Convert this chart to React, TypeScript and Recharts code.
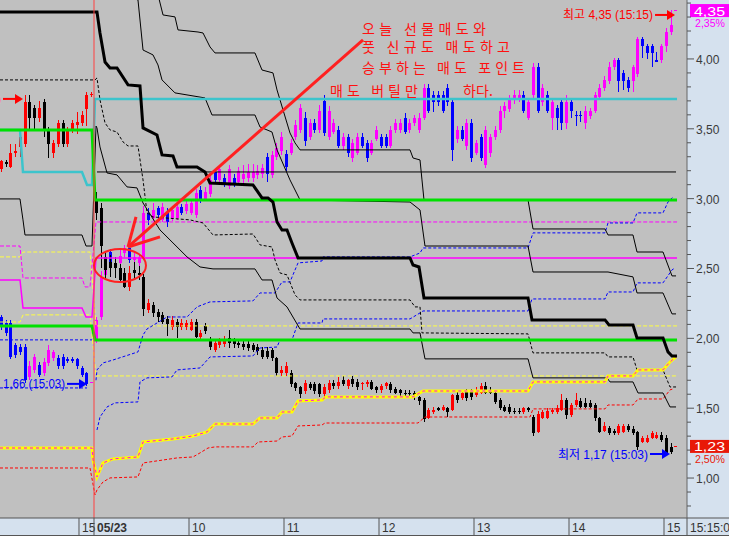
import { ComposedChart, Line, Bar, XAxis, YAxis, CartesianGrid, ReferenceLine, ReferenceDot } from "recharts"

const X_MIN = -19.79
const X_MAX = 124.84
const Y_MIN = 0.714
const Y_MAX = 4.422

const X_TICKS = [-3.16, 0, 20, 40, 60, 80, 100, 120, X_MAX]
const X_LABELS = ["15", "05/23", "10", "11", "12", "13", "14", "15", "15:15:00"]
const Y_TICKS = [0.8, 0.9, 1.0, 1.1, 1.2, 1.3, 1.4, 1.5, 1.6, 1.7, 1.8, 1.9, 2.0, 2.1, 2.2, 2.3, 2.4, 2.5, 2.6, 2.7, 2.8, 2.9, 3.0, 3.1, 3.2, 3.3, 3.4, 3.5, 3.6, 3.7, 3.8, 3.9, 4.0, 4.1, 4.2, 4.3, 4.4]

// candles are [open, high, low, close]; prev day = 20 slots before 09:00
const callPrev = [
  [2.15, 2.17, 2.06, 2.08], [2.11, 2.13, 2.02, 2.04], [2.11, 2.13, 1.85, 1.87], [1.95, 1.97, 1.86, 1.88],
  [1.94, 1.96, 1.88, 1.90], [1.94, 1.96, 1.68, 1.70], [1.72, 1.84, 1.70, 1.80], [1.77, 1.89, 1.75, 1.87],
  [1.81, 1.83, 1.72, 1.74], [1.75, 1.86, 1.73, 1.83], [1.82, 1.95, 1.80, 1.92], [1.86, 1.92, 1.84, 1.90],
  [1.86, 1.88, 1.78, 1.80], [1.87, 1.89, 1.78, 1.80], [1.85, 1.87, 1.82, 1.84], [1.85, 1.87, 1.82, 1.84],
  [1.85, 1.86, 1.78, 1.80], [1.79, 1.80, 1.72, 1.74], [1.75, 1.76, 1.66, 1.67], [1.68, 1.69, 1.68, 1.69],
]
const putPrev = [
  [3.21, 3.28, 3.19, 3.27], [3.26, 3.28, 3.23, 3.25], [3.23, 3.39, 3.22, 3.33], [3.33, 3.39, 3.30, 3.34],
  [3.37, 3.46, 3.30, 3.44], [3.39, 3.74, 3.37, 3.69], [3.69, 3.74, 3.49, 3.58], [3.65, 3.67, 3.49, 3.58],
  [3.58, 3.70, 3.55, 3.65], [3.69, 3.71, 3.44, 3.49], [3.49, 3.51, 3.29, 3.39], [3.33, 3.42, 3.29, 3.40],
  [3.39, 3.56, 3.37, 3.54], [3.54, 3.56, 3.37, 3.39], [3.39, 3.51, 3.37, 3.49], [3.49, 3.56, 3.47, 3.54],
  [3.53, 3.62, 3.46, 3.55], [3.54, 3.63, 3.52, 3.60], [3.64, 3.76, 3.52, 3.74], [3.74, 3.76, 3.73, 3.75],
]
const callToday = [
  [1.99, 2.15, 1.97, 2.13], [2.15, 2.48, 2.13, 2.44], [2.45, 2.55, 2.42, 2.52], [2.62, 2.64, 2.48, 2.50],
  [2.50, 2.56, 2.47, 2.53], [2.54, 2.63, 2.52, 2.59], [2.61, 2.67, 2.58, 2.65], [2.65, 2.68, 2.54, 2.56],
  [2.56, 2.61, 2.54, 2.58], [2.54, 2.60, 2.52, 2.58], [2.58, 2.95, 2.56, 2.90], [2.90, 2.93, 2.81, 2.85],
  [2.86, 2.97, 2.84, 2.92], [2.93, 2.95, 2.85, 2.88], [2.85, 2.97, 2.83, 2.94], [2.90, 2.93, 2.80, 2.83],
  [2.86, 2.95, 2.84, 2.92], [2.86, 2.97, 2.85, 2.94], [2.94, 2.96, 2.88, 2.90], [2.91, 2.99, 2.89, 2.96],
  [2.90, 3.00, 2.88, 2.97], [2.88, 3.07, 2.86, 3.04], [3.06, 3.09, 2.97, 2.99], [3.00, 3.08, 2.98, 3.05],
  [3.03, 3.16, 3.01, 3.13], [3.19, 3.21, 3.11, 3.13], [3.13, 3.24, 3.11, 3.21], [3.15, 3.18, 3.08, 3.10],
  [3.09, 3.24, 3.07, 3.21], [3.15, 3.18, 3.08, 3.10], [3.12, 3.23, 3.10, 3.20], [3.14, 3.24, 3.10, 3.18],
  [3.15, 3.25, 3.12, 3.19], [3.15, 3.25, 3.12, 3.19], [3.17, 3.24, 3.14, 3.20], [3.18, 3.25, 3.15, 3.22],
  [3.30, 3.33, 3.12, 3.18], [3.17, 3.34, 3.15, 3.31], [3.30, 3.40, 3.28, 3.36], [3.34, 3.48, 3.31, 3.44],
  [3.32, 3.35, 3.20, 3.23], [3.33, 3.43, 3.31, 3.40], [3.44, 3.56, 3.42, 3.53], [3.49, 3.68, 3.47, 3.65],
  [3.58, 3.62, 3.38, 3.41], [3.44, 3.57, 3.42, 3.54], [3.54, 3.57, 3.47, 3.49], [3.49, 3.67, 3.47, 3.63],
  [3.70, 3.74, 3.45, 3.47], [3.44, 3.66, 3.42, 3.63], [3.48, 3.57, 3.46, 3.54], [3.49, 3.52, 3.36, 3.38],
  [3.38, 3.47, 3.35, 3.44], [3.44, 3.46, 3.30, 3.33], [3.29, 3.43, 3.26, 3.40], [3.33, 3.47, 3.31, 3.44],
  [3.44, 3.47, 3.36, 3.38], [3.40, 3.42, 3.26, 3.29], [3.33, 3.42, 3.31, 3.40], [3.43, 3.52, 3.41, 3.49],
  [3.44, 3.46, 3.36, 3.38], [3.44, 3.46, 3.36, 3.38], [3.38, 3.52, 3.36, 3.49], [3.49, 3.57, 3.47, 3.54],
  [3.49, 3.57, 3.47, 3.54], [3.58, 3.61, 3.46, 3.48], [3.49, 3.57, 3.47, 3.54], [3.54, 3.60, 3.52, 3.58],
  [3.49, 3.61, 3.47, 3.58], [3.58, 3.82, 3.56, 3.79], [3.79, 3.82, 3.61, 3.63], [3.74, 3.77, 3.62, 3.69],
  [3.74, 3.77, 3.66, 3.69], [3.74, 3.77, 3.61, 3.63], [3.79, 3.82, 3.66, 3.69], [3.69, 3.72, 3.27, 3.35],
  [3.43, 3.52, 3.40, 3.49], [3.49, 3.52, 3.41, 3.43], [3.38, 3.57, 3.35, 3.54], [3.54, 3.57, 3.26, 3.29],
  [3.33, 3.42, 3.31, 3.40], [3.44, 3.46, 3.27, 3.29], [3.24, 3.52, 3.22, 3.49], [3.33, 3.46, 3.30, 3.44],
  [3.44, 3.52, 3.42, 3.49], [3.49, 3.66, 3.47, 3.63], [3.63, 3.69, 3.58, 3.66], [3.64, 3.74, 3.62, 3.71],
  [3.71, 3.78, 3.68, 3.74], [3.71, 3.78, 3.69, 3.74], [3.74, 3.77, 3.61, 3.63], [3.58, 3.71, 3.56, 3.69],
  [3.74, 3.97, 3.72, 3.94], [3.94, 3.97, 3.61, 3.63], [3.69, 3.82, 3.66, 3.79], [3.74, 3.77, 3.61, 3.63],
  [3.58, 3.71, 3.49, 3.69], [3.65, 3.67, 3.49, 3.58], [3.69, 3.72, 3.49, 3.54], [3.54, 3.74, 3.50, 3.69],
  [3.69, 3.72, 3.58, 3.63], [3.60, 3.63, 3.52, 3.59], [3.60, 3.63, 3.55, 3.59], [3.54, 3.66, 3.50, 3.63],
  [3.59, 3.65, 3.57, 3.63], [3.63, 3.76, 3.61, 3.74], [3.73, 3.82, 3.71, 3.79], [3.79, 3.88, 3.77, 3.85],
  [3.84, 3.98, 3.82, 3.94], [3.94, 4.01, 3.92, 3.99], [3.99, 4.01, 3.76, 3.84], [3.90, 3.92, 3.78, 3.84],
  [3.85, 3.87, 3.76, 3.79], [3.84, 3.96, 3.76, 3.94], [3.89, 4.16, 3.87, 4.14], [4.14, 4.16, 4.01, 4.09],
  [4.09, 4.11, 4.00, 4.04], [4.09, 4.11, 3.94, 4.04], [3.99, 4.05, 3.98, 3.98], [3.99, 4.11, 3.97, 4.09],
  [4.09, 4.22, 4.05, 4.19], [4.19, 4.35, 4.17, 4.24], [4.34, 4.35, 4.34, 4.35],
]
const putToday = [
  [3.00, 3.05, 2.85, 2.90], [2.93, 2.97, 2.50, 2.66], [2.58, 2.62, 2.42, 2.49], [2.55, 2.60, 2.44, 2.50],
  [2.54, 2.58, 2.43, 2.50], [2.50, 2.53, 2.40, 2.42], [2.47, 2.50, 2.36, 2.37], [2.37, 2.52, 2.34, 2.47],
  [2.49, 2.55, 2.42, 2.47], [2.47, 2.52, 2.42, 2.45], [2.44, 2.46, 2.16, 2.21], [2.20, 2.28, 2.18, 2.25],
  [2.24, 2.26, 2.15, 2.18], [2.19, 2.21, 2.12, 2.15], [2.17, 2.19, 2.10, 2.12], [2.14, 2.16, 2.02, 2.10],
  [2.08, 2.16, 2.06, 2.13], [2.12, 2.14, 2.00, 2.08], [2.08, 2.14, 2.06, 2.11], [2.08, 2.13, 2.06, 2.11],
  [2.06, 2.14, 2.05, 2.12], [2.12, 2.14, 2.00, 2.01], [2.01, 2.06, 1.99, 2.04], [2.09, 2.11, 2.03, 2.05],
  [1.99, 2.01, 1.92, 1.94], [1.92, 1.99, 1.90, 1.97], [1.95, 2.00, 1.93, 1.98], [1.96, 2.02, 1.94, 1.99],
  [2.00, 2.06, 1.93, 1.97], [1.98, 2.00, 1.93, 1.96], [1.97, 1.99, 1.93, 1.95], [1.96, 1.98, 1.92, 1.94],
  [1.96, 1.98, 1.91, 1.93], [1.95, 1.97, 1.90, 1.92], [1.94, 1.96, 1.88, 1.91], [1.92, 1.94, 1.85, 1.87],
  [1.91, 1.94, 1.85, 1.87], [1.92, 1.93, 1.84, 1.86], [1.86, 1.87, 1.73, 1.75], [1.75, 1.80, 1.73, 1.77],
  [1.75, 1.83, 1.73, 1.80], [1.75, 1.77, 1.65, 1.67], [1.68, 1.69, 1.62, 1.645], [1.65, 1.66, 1.57, 1.60],
  [1.62, 1.70, 1.60, 1.68], [1.67, 1.69, 1.63, 1.645], [1.67, 1.69, 1.60, 1.62], [1.67, 1.68, 1.58, 1.60],
  [1.60, 1.67, 1.58, 1.65], [1.63, 1.70, 1.61, 1.68], [1.68, 1.70, 1.64, 1.66], [1.66, 1.72, 1.64, 1.69],
  [1.70, 1.73, 1.66, 1.67], [1.66, 1.71, 1.64, 1.70], [1.71, 1.73, 1.65, 1.67], [1.69, 1.71, 1.63, 1.65],
  [1.67, 1.69, 1.63, 1.68], [1.67, 1.70, 1.65, 1.69], [1.69, 1.70, 1.63, 1.64], [1.65, 1.66, 1.61, 1.63],
  [1.63, 1.67, 1.61, 1.66], [1.66, 1.69, 1.64, 1.68], [1.67, 1.69, 1.61, 1.63], [1.64, 1.65, 1.60, 1.61],
  [1.63, 1.64, 1.59, 1.61], [1.61, 1.63, 1.59, 1.605], [1.61, 1.63, 1.59, 1.605], [1.61, 1.62, 1.56, 1.58],
  [1.58, 1.59, 1.52, 1.55], [1.56, 1.57, 1.40, 1.42], [1.43, 1.50, 1.42, 1.49], [1.47, 1.51, 1.46, 1.49],
  [1.50, 1.51, 1.48, 1.49], [1.49, 1.52, 1.48, 1.51], [1.50, 1.51, 1.44, 1.47], [1.49, 1.60, 1.48, 1.595],
  [1.595, 1.63, 1.54, 1.56], [1.57, 1.63, 1.56, 1.61], [1.62, 1.64, 1.55, 1.57], [1.62, 1.64, 1.56, 1.58],
  [1.595, 1.65, 1.58, 1.63], [1.61, 1.68, 1.60, 1.66], [1.66, 1.69, 1.60, 1.61], [1.63, 1.65, 1.60, 1.61],
  [1.61, 1.62, 1.53, 1.545], [1.56, 1.57, 1.49, 1.50], [1.51, 1.52, 1.47, 1.48], [1.51, 1.53, 1.46, 1.47],
  [1.48, 1.50, 1.46, 1.47], [1.48, 1.50, 1.46, 1.47], [1.47, 1.51, 1.46, 1.50], [1.50, 1.51, 1.47, 1.49],
  [1.44, 1.45, 1.30, 1.32], [1.33, 1.48, 1.32, 1.46], [1.43, 1.49, 1.42, 1.47], [1.43, 1.50, 1.42, 1.48],
  [1.47, 1.50, 1.46, 1.49], [1.47, 1.52, 1.46, 1.50], [1.49, 1.60, 1.48, 1.56], [1.56, 1.57, 1.42, 1.45],
  [1.45, 1.54, 1.44, 1.52], [1.52, 1.61, 1.51, 1.56], [1.55, 1.57, 1.50, 1.51], [1.54, 1.57, 1.50, 1.51],
  [1.54, 1.56, 1.50, 1.51], [1.52, 1.54, 1.41, 1.43], [1.43, 1.44, 1.32, 1.33], [1.34, 1.40, 1.33, 1.37],
  [1.36, 1.37, 1.31, 1.32], [1.34, 1.35, 1.31, 1.32], [1.32, 1.39, 1.31, 1.37], [1.33, 1.39, 1.32, 1.37],
  [1.37, 1.39, 1.33, 1.345], [1.35, 1.37, 1.31, 1.32], [1.33, 1.34, 1.20, 1.22], [1.26, 1.30, 1.25, 1.29],
  [1.26, 1.31, 1.25, 1.29], [1.29, 1.34, 1.28, 1.32], [1.29, 1.33, 1.28, 1.31], [1.31, 1.33, 1.26, 1.27],
  [1.29, 1.31, 1.18, 1.18], [1.22, 1.25, 1.17, 1.19], [1.23, 1.23, 1.23, 1.23],
]

// indicator lines, [slot, price]
const thickBlack = [[-19.79, 4.336], [0.63, 4.336], [1.26, 4.186], [2.32, 3.978], [3.37, 3.936], [4.84, 3.936], [7.16, 3.814], [9.68, 3.807], [10.32, 3.506], [13.26, 3.456], [14.32, 3.313], [16.63, 3.306], [17.47, 3.227], [21.68, 3.227], [23.37, 3.191], [24.42, 3.112], [33.47, 3.098], [35.37, 3.005], [36.63, 3.005], [37.68, 2.976], [38.53, 2.833], [39.58, 2.776], [40.63, 2.776], [41.68, 2.683], [42.95, 2.576], [66.53, 2.576], [67.16, 2.525], [68.42, 2.511], [69.47, 2.289], [91.37, 2.289], [92.21, 2.132], [107.58, 2.132], [108.42, 2.096], [113.47, 2.096], [114.32, 2.003], [119.79, 2.003], [120.84, 1.903], [121.68, 1.874], [122.74, 1.874]]
const thin1 = [[13.47, 4.46], [14.53, 4.315], [17.05, 4.301], [17.68, 4.208], [21.89, 4.193], [22.95, 4.186], [24.42, 4.086], [25.47, 4.043], [33.89, 4.043], [35.37, 3.921], [37.68, 3.9], [38.53, 3.778], [41.26, 3.47], [42.32, 3.399], [43.37, 3.349], [66.53, 3.349], [67.16, 3.291], [68.63, 3.277], [69.05, 3.134], [69.47, 2.991], [91.37, 2.991], [92.42, 2.783], [107.58, 2.783], [108.21, 2.74], [113.47, 2.74], [114.32, 2.618], [119.79, 2.618], [121.68, 2.447], [122.53, 2.447]]
const thin2 = [[7.16, 4.46], [9.26, 4.422], [10.32, 4.064], [12.42, 4.029], [13.47, 3.957], [14.32, 3.85], [17.05, 3.757], [23.37, 3.721], [24.84, 3.599], [33.89, 3.599], [34.95, 3.513], [37.47, 3.477], [38.53, 3.349], [41.26, 3.134], [43.37, 2.991], [66.53, 2.976], [68.63, 2.919], [69.68, 2.661], [91.37, 2.661], [92.42, 2.475], [108.21, 2.475], [113.47, 2.44], [114.32, 2.325], [119.79, 2.325], [121.68, 2.175], [122.53, 2.175]]
const thin3 = [[-19.79, 2.998], [-15.58, 2.998], [-14.95, 2.848], [-14.53, 2.74], [-2.53, 2.74], [-1.68, 2.661], [-0.42, 2.661], [0.42, 3.52], [0.63, 3.506], [1.26, 3.37], [2.74, 3.184], [4.84, 3.17], [6.95, 3.084], [9.05, 3.077], [10.32, 2.969], [13.89, 2.776], [16.63, 2.683], [19.58, 2.583], [22.32, 2.511], [25.05, 2.497], [33.89, 2.497], [35.37, 2.418], [37.47, 2.418], [38.53, 2.289], [40.63, 2.225], [43.37, 2.067], [66.53, 2.067], [67.16, 2.039], [68.63, 2.039], [69.68, 1.853], [91.37, 1.853], [92.42, 1.717], [108.0, 1.717], [108.63, 1.688], [113.47, 1.688], [114.53, 1.609], [119.79, 1.609], [121.26, 1.509], [122.53, 1.509]]
const blackFlat = [[0.63, 3.191], [122.53, 3.191]]
const dashBlack = [[-19.79, 3.85], [0.21, 3.85], [0.63, 3.864], [1.26, 3.707], [2.32, 3.542], [3.37, 3.492], [4.84, 3.477], [6.11, 3.406], [7.16, 3.377], [9.26, 3.377], [10.32, 3.134], [11.16, 2.898], [12.42, 2.869], [20.21, 2.848], [22.95, 2.826], [25.05, 2.74], [33.47, 2.747], [34.95, 2.669], [37.47, 2.654], [38.11, 2.561], [39.16, 2.468], [40.63, 2.454], [42.32, 2.311], [43.37, 2.275], [66.53, 2.275], [67.58, 2.225], [68.63, 2.225], [69.05, 2.039], [91.37, 2.032], [92.42, 1.896], [107.58, 1.896], [108.21, 1.867], [113.47, 1.867], [114.32, 1.774], [119.79, 1.774], [121.26, 1.652], [122.53, 1.652]]
const blueA = [[0.42, 1.7], [0.63, 1.774], [1.89, 1.824], [4.0, 1.845], [9.26, 1.903], [10.32, 2.024], [11.16, 2.067], [15.37, 2.153], [19.58, 2.153], [21.68, 2.225], [24.42, 2.261], [33.47, 2.268], [34.95, 2.325], [38.11, 2.325], [39.58, 2.404], [41.26, 2.404], [42.95, 2.54], [48.0, 2.554], [48.21, 2.583], [66.53, 2.583], [68.63, 2.611], [69.26, 2.647], [91.37, 2.647], [92.42, 2.755], [107.58, 2.755], [108.21, 2.826], [113.47, 2.826], [114.32, 2.898], [119.79, 2.898], [120.84, 2.976], [121.89, 3.012]]
const blueB = [[0.63, 1.344], [1.26, 1.437], [2.74, 1.509], [4.42, 1.538], [9.26, 1.545], [9.68, 1.688], [11.16, 1.717], [16.42, 1.724], [17.47, 1.774], [22.32, 1.788], [24.42, 1.867], [33.47, 1.874], [34.53, 1.917], [34.95, 1.931], [38.53, 1.938], [39.16, 1.989], [41.68, 1.989], [42.95, 2.11], [48.0, 2.11], [48.21, 2.139], [66.53, 2.139], [68.63, 2.182], [69.26, 2.196], [91.37, 2.196], [92.21, 2.282], [107.58, 2.282], [108.21, 2.332], [113.47, 2.332], [114.32, 2.397], [119.79, 2.397], [121.68, 2.49], [122.32, 2.504]]
const bluePrevHi = [[-19.79, 1.989], [-0.42, 1.989]]
const bluePrevLo = [[-19.79, 1.645], [-1.47, 1.645]]
const redDash = [[-19.79, 1.072], [-0.84, 1.072], [0.21, 0.879], [0.63, 0.915], [1.89, 0.972], [3.37, 1.001], [9.26, 1.008], [10.32, 1.108], [17.47, 1.144], [20.84, 1.151], [22.32, 1.18], [24.0, 1.215], [25.47, 1.223], [33.47, 1.223], [34.53, 1.258], [38.53, 1.265], [39.58, 1.294], [41.68, 1.301], [42.95, 1.373], [48.0, 1.38], [48.63, 1.394], [68.21, 1.394], [69.68, 1.437], [91.79, 1.437], [92.42, 1.495], [107.58, 1.495], [108.21, 1.523], [113.47, 1.523], [114.53, 1.566], [119.79, 1.566], [121.26, 1.631], [121.89, 1.638]]
const yellowBand = [[-19.79, 1.215], [-0.42, 1.215], [-0.21, 1.13], [0.63, 1.008], [1.89, 1.108], [4.0, 1.137], [9.26, 1.151], [10.32, 1.258], [16.63, 1.28], [20.84, 1.301], [23.79, 1.33], [25.47, 1.387], [33.47, 1.387], [34.95, 1.43], [38.53, 1.43], [39.58, 1.473], [41.68, 1.473], [42.95, 1.552], [48.0, 1.559], [48.84, 1.581], [67.16, 1.581], [69.26, 1.623], [91.37, 1.623], [92.42, 1.688], [107.58, 1.688], [108.21, 1.731], [113.47, 1.731], [114.53, 1.774], [119.79, 1.774], [121.26, 1.831], [122.53, 1.867]]
const cyanLine = [[-19.79, 3.492], [-15.58, 3.492], [-14.95, 3.191], [-2.53, 3.191], [-1.47, 3.098], [-0.42, 3.098], [0.21, 3.714], [122.74, 3.714]]
const greenHi = [[-19.79, 3.492], [-0.42, 3.492], [0.21, 2.991], [122.74, 2.991]]
const greenLo = [[-19.79, 2.089], [-0.42, 2.089], [0.21, 1.989], [122.74, 1.989]]
const magentaSolid = [[-19.79, 2.418], [-15.58, 2.418], [-14.95, 2.218], [-2.53, 2.218], [-1.68, 2.153], [-0.42, 2.153], [0.42, 2.576], [122.74, 2.576]]
const magentaDash = [[-19.79, 2.661], [-15.58, 2.661], [-14.95, 2.432], [-2.53, 2.432], [-1.89, 2.368], [-0.84, 2.368], [0.42, 2.833], [122.74, 2.833]]
const yellowDashHi = [[-19.79, 2.583], [-15.58, 2.583], [-14.95, 2.618], [-0.84, 2.618], [0.42, 2.089], [122.74, 2.089]]
const yellowDashLo = [[-19.79, 2.117], [-15.58, 2.117], [-14.95, 2.168], [-0.84, 2.168], [0.42, 1.731], [122.74, 1.731]]

const CALL_UP = "#ff00ff"
const CALL_DN = "#0000ff"
const PUT_UP = "#ff0000"
const PUT_DN = "#000000"
const LABEL_FONT = "'Liberation Sans', 'Noto Sans CJK KR', sans-serif"

const candleRows = callPrev.concat(callToday).map((call, n) => {
  const put = n < 20 ? putPrev[n] : putToday[n - 20]
  return {
    s: n - 20 + 0.5,
    call,
    put,
    lo: Math.min(call[2], put[2]),
    hi: Math.max(call[1], put[1]),
  }
})

const pts = (a: number[][]) => a.map(([s, v]) => ({ s, v }))

const lineStyles = [
  { data: yellowDashHi, stroke: "#ffff40", width: 1, dash: "4 2" },
  { data: yellowDashLo, stroke: "#ffff40", width: 1, dash: "4 2" },
  { data: magentaDash, stroke: "#ff00ff", width: 1, dash: "4 2" },
  { data: magentaSolid, stroke: "#ff00ff", width: 1.5 },
  { data: redDash, stroke: "#ff0000", width: 1, dash: "3 2" },
  { data: blueA, stroke: "#0000ff", width: 1, dash: "3 2" },
  { data: blueB, stroke: "#0000ff", width: 1, dash: "3 2" },
  { data: bluePrevHi, stroke: "#0000ff", width: 1, dash: "3 2" },
  { data: bluePrevLo, stroke: "#0000ff", width: 1, dash: "3 2" },
  { data: dashBlack, stroke: "#000000", width: 1, dash: "3 2" },
  { data: thin1, stroke: "#000000", width: 1 },
  { data: thin2, stroke: "#000000", width: 1 },
  { data: thin3, stroke: "#000000", width: 1 },
  { data: blackFlat, stroke: "#000000", width: 1 },
  { data: yellowBand, stroke: "#ffff00", width: 3 },
  { data: yellowBand, stroke: "#ff00ff", width: 1, dash: "3 3" },
  { data: cyanLine, stroke: "#3cc4cc", width: 2.5 },
  { data: greenHi, stroke: "#00e000", width: 3 },
  { data: greenLo, stroke: "#00e000", width: 3 },
  { data: thickBlack, stroke: "#000000", width: 3 },
]

const noteLines = [
  { s: 56.42, v: 4.179, text: "오늘 선물매도와", w: 124 },
  { s: 56.42, v: 4.05, text: "풋 신규도 매도하고", w: 148 },
  { s: 56.42, v: 3.9, text: "승부하는 매도 포인트", w: 163 },
  { s: 49.68, v: 3.735, text: "매도 버틸만", w: 88 },
  { s: 77.68, v: 3.735, text: "하다.", w: 30 },
]

const arrowLabels = [
  { s: 122.32, v: 4.315, text: "최고 4,35 (15:15)", color: "#ff0000", w: 90 },
  { s: 121.26, v: 1.172, text: "최저 1,17 (15:03)", color: "#0000ff", w: 90 },
  { s: -1.47, v: 1.674, text: "1,66 (15:03)", color: "#0000ff", w: 62 },
  { s: -14.95, v: 3.714, text: "최고 3,74 (09:18)", color: "#ff0000", w: 90 },
]

const bigArrow = [
  [[7.16, 2.654], [56.63, 4.136]],
  [[7.16, 2.654], [8.84, 2.869]],
  [[7.16, 2.654], [13.89, 2.726]],
]

function CandlePair(props: any) {
  const { x, y, width, height, payload } = props
  if (!payload || !height) return null
  const k = height / (payload.hi - payload.lo)
  const py = (v: number) => Math.round(y + (payload.hi - v) * k)
  const cx = Math.floor(x + width / 2)
  const draw = (c: number[], up: string, dn: string, key: string) => {
    const [o, h, l, cl] = c
    const col = cl >= o ? up : dn
    const top = py(Math.max(o, cl))
    const bot = py(Math.min(o, cl))
    return (
      <g key={key}>
        <rect x={cx} y={py(h)} width={1} height={Math.max(1, py(l) - py(h))} fill={col} />
        <rect x={cx - 1} y={top} width={3} height={Math.max(1, bot - top)} fill={col} />
      </g>
    )
  }
  return (
    <g shapeRendering="crispEdges">
      {draw(payload.call, CALL_UP, CALL_DN, "c")}
      {draw(payload.put, PUT_UP, PUT_DN, "p")}
    </g>
  )
}

function YTick(props: any) {
  const { x, y, payload } = props
  const v = payload.value
  const major = Math.abs(v * 2 - Math.round(v * 2)) < 1e-6
  return (
    <g>
      <line x1={x} x2={x + (major ? 7 : 4)} y1={y} y2={y} stroke="#555" />
      {major && (
        <text x={x + 9} y={y + 5} fontSize={12} fill="#3a3a3a" fontFamily={LABEL_FONT}>
          {v.toFixed(2).replace(".", ",")}
        </text>
      )}
    </g>
  )
}

function XTick(props: any) {
  const { x, y, payload } = props
  const idx = X_TICKS.findIndex((t) => Math.abs(t - payload.value) < 1e-6)
  const last = idx === X_TICKS.length - 1
  return (
    <g>
      <line x1={x} x2={x} y1={y} y2={y + 18} stroke="#555" />
      {last && <line x1={x} x2={x + 42} y1={y} y2={y} stroke="#555" />}
      <text x={x + 3} y={y + 14} fontSize={12} fontWeight={idx === 1 ? "bold" : "normal"} fill="#333" fontFamily={LABEL_FONT}>
        {X_LABELS[idx]}
      </text>
    </g>
  )
}

function ArrowLabel({ cx, cy, text, color, w }: any) {
  return (
    <g>
      <text
        x={cx - 22}
        y={cy + 4.5}
        textAnchor="end"
        fontSize={12}
        fill={color}
        fontFamily={LABEL_FONT}
        textLength={w}
        lengthAdjust="spacingAndGlyphs"
      >
        {text}
      </text>
      <line x1={cx - 20} y1={cy} x2={cx - 7} y2={cy} stroke={color} strokeWidth={2} />
      <polygon points={`${cx},${cy} ${cx - 8},${cy - 5} ${cx - 8},${cy + 5}`} fill={color} />
    </g>
  )
}

function PriceTag({ cx, cy, value, pct, bg, pctColor }: any) {
  return (
    <g fontFamily={LABEL_FONT}>
      <rect x={cx + 3} y={cy - 6} width={42} height={13} fill={bg} />
      <text x={cx + 7} y={cy + 5.5} fontSize={12.5} fill="#ffffff" textLength={31} lengthAdjust="spacingAndGlyphs">
        {value}
      </text>
      <text x={cx + 8} y={cy + 17} fontSize={11.5} fill={pctColor} textLength={30} lengthAdjust="spacingAndGlyphs">
        {pct}
      </text>
    </g>
  )
}

export default function App() {
  return (
    <div style={{ position: "absolute", left: 0, top: 0, width: 729, height: 536, background: "#d5e1ee" }}>
      <div style={{ position: "absolute", left: 0, top: 535, width: 729, height: 1, background: "#555" }} />
      <ComposedChart width={729} height={536} data={candleRows} margin={{ top: 0, right: 0, left: 0, bottom: 0 }}>
        <CartesianGrid fill="#c0c0c0" horizontal={false} vertical={false} stroke="none" />
        <XAxis
          dataKey="s"
          type="number"
          domain={[X_MIN, X_MAX]}
          ticks={X_TICKS}
          interval={0}
          allowDataOverflow
          height={18}
          tickSize={0}
          tickMargin={0}
          tickLine={false}
          axisLine={{ stroke: "#555" }}
          tick={<XTick />}
        />
        <YAxis
          orientation="right"
          type="number"
          domain={[Y_MIN, Y_MAX]}
          ticks={Y_TICKS}
          interval={0}
          allowDataOverflow
          width={42}
          tickSize={0}
          tickMargin={0}
          tickLine={false}
          axisLine={{ stroke: "#666" }}
          tick={<YTick />}
        />
        {lineStyles.map((l, i) => (
          <Line
            key={i}
            data={pts(l.data)}
            dataKey="v"
            type="linear"
            stroke={l.stroke}
            strokeWidth={l.width}
            strokeDasharray={l.dash}
            dot={false}
            activeDot={false}
            isAnimationActive={false}
          />
        ))}
        <Bar dataKey={(r: any) => [r.lo, r.hi]} barSize={3} shape={CandlePair} isAnimationActive={false} />
        <ReferenceLine x={0} stroke="#ff4040" strokeWidth={1} />
        {bigArrow.map((seg, i) => (
          <ReferenceLine
            key={"a" + i}
            segment={[{ x: seg[0][0], y: seg[0][1] }, { x: seg[1][0], y: seg[1][1] }]}
            stroke="#ff2020"
            strokeWidth={3}
            ifOverflow="visible"
          />
        ))}
        <ReferenceDot
          x={5.47}
          y={2.522}
          r={0}
          ifOverflow="visible"
          shape={(p: any) => <ellipse cx={p.cx} cy={p.cy} rx={26} ry={16.5} fill="none" stroke="#ff2020" strokeWidth={2} />}
        />
        {noteLines.map((n, i) => (
          <ReferenceDot
            key={"n" + i}
            x={n.s}
            y={n.v}
            r={0}
            ifOverflow="visible"
            shape={(p: any) => (
              <text
                x={p.cx}
                y={p.cy}
                fontSize={14}
                fill="#ff1010"
                fontFamily="'Noto Sans CJK KR', sans-serif"
                textLength={n.w}
                lengthAdjust="spacing"
              >
                {n.text}
              </text>
            )}
          />
        ))}
        {arrowLabels.map((a, i) => (
          <ReferenceDot
            key={"l" + i}
            x={a.s}
            y={a.v}
            r={0}
            ifOverflow="visible"
            shape={(p: any) => <ArrowLabel cx={p.cx} cy={p.cy} text={a.text} color={a.color} w={a.w} />}
          />
        ))}
        <ReferenceDot
          x={X_MAX}
          y={4.35}
          r={0}
          ifOverflow="visible"
          shape={(p: any) => <PriceTag cx={p.cx} cy={p.cy} value="4,35" pct="2,35%" bg="#ff00ff" pctColor="#ff00ff" />}
        />
        <ReferenceDot
          x={X_MAX}
          y={1.23}
          r={0}
          ifOverflow="visible"
          shape={(p: any) => <PriceTag cx={p.cx} cy={p.cy} value="1,23" pct="2,50%" bg="#e81808" pctColor="#e81808" />}
        />
      </ComposedChart>
    </div>
  )
}
